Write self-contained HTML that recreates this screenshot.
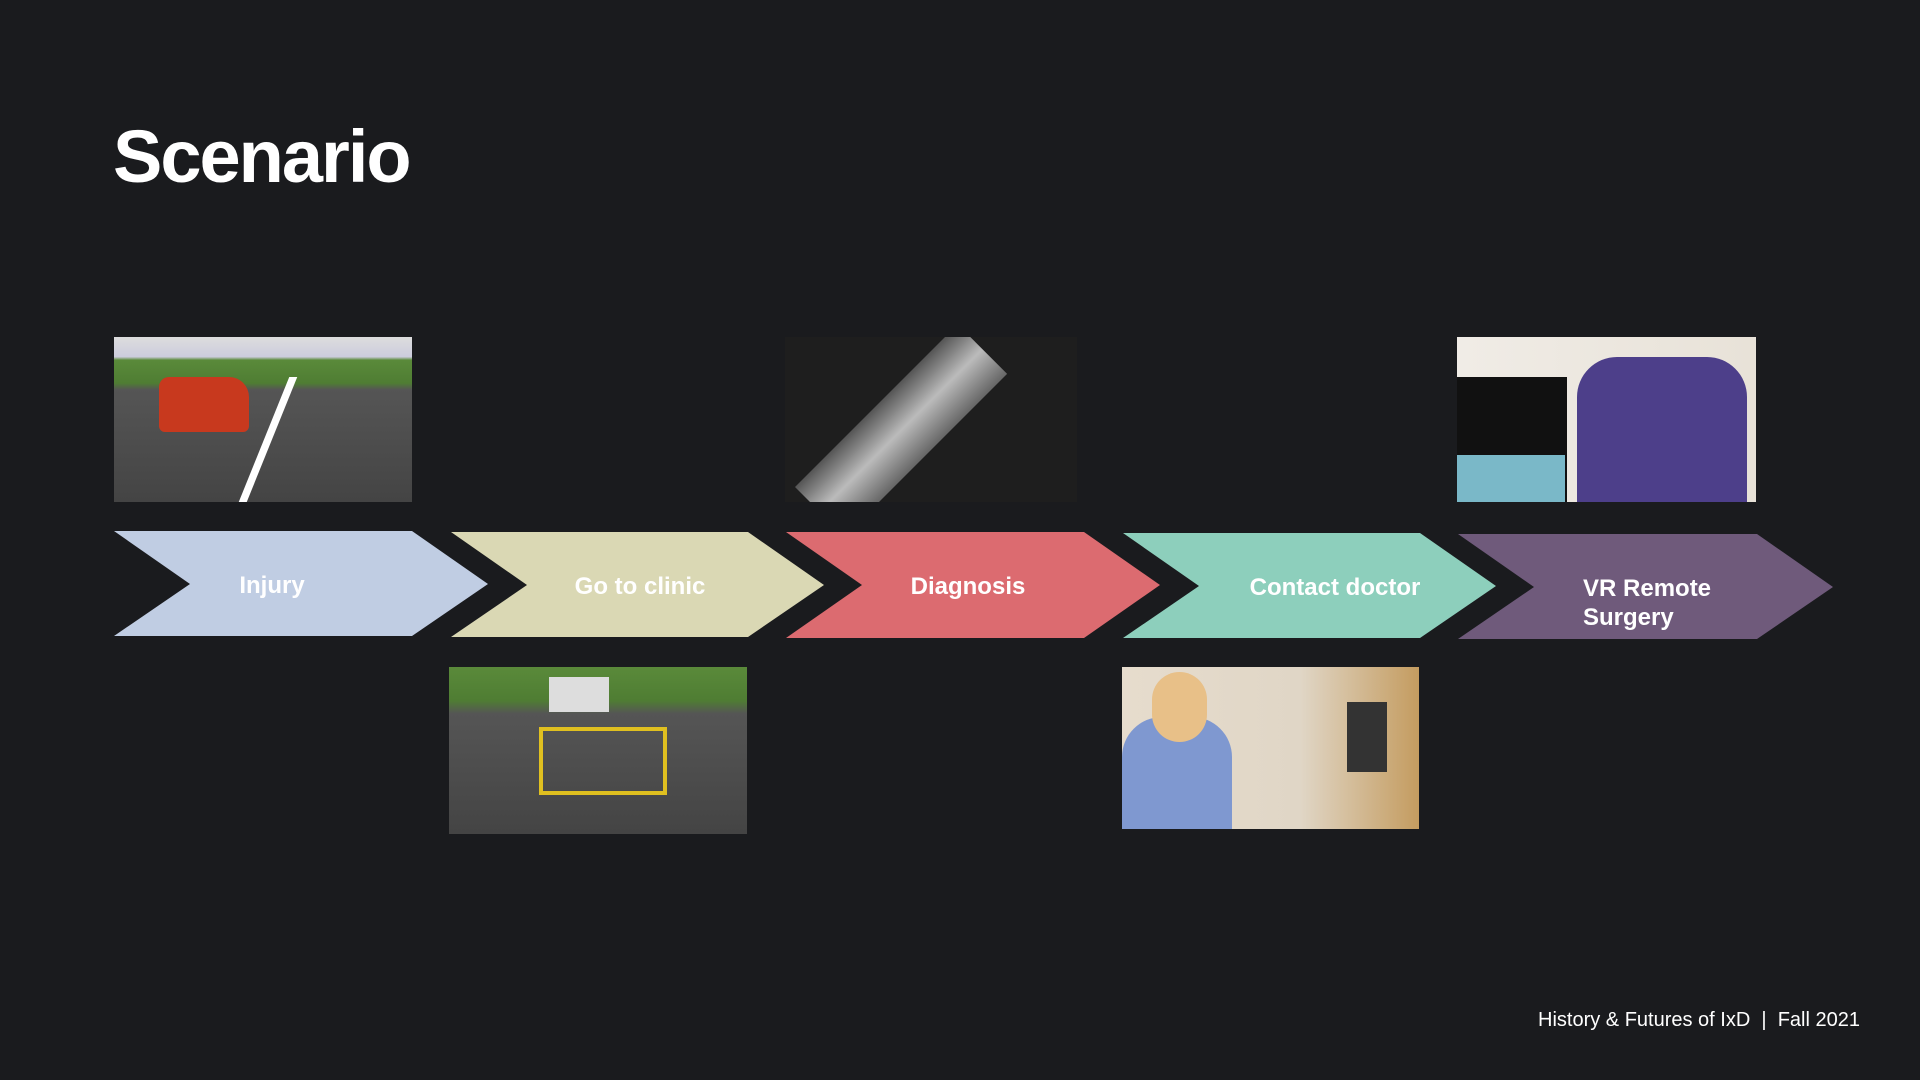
<!DOCTYPE html>
<html><head><meta charset="utf-8"><style>
html,body{margin:0;padding:0;background:#1a1b1e;}
body{width:1920px;height:1080px;position:relative;overflow:hidden;font-family:"Liberation Sans",sans-serif;}
.t{position:absolute;left:113px;top:114px;font-size:74px;font-weight:bold;color:#fff;letter-spacing:-2px;}
.img{position:absolute;overflow:hidden;}
.f{position:absolute;right:60px;top:1009px;color:#fff;font-size:20px;}
</style></head><body>
<div class="t">Scenario</div>

<div class="img" style="left:114px;top:337px;width:298px;height:165px;background:linear-gradient(180deg,#ddd 0%,#ccd 12%,#5a8a3a 14%,#4f7d33 28%,#555 32%,#444 100%);">
  <div style="position:absolute;left:45px;top:40px;width:90px;height:55px;background:#c8391e;border-radius:10px 20px 6px 6px;"></div>
  <div style="position:absolute;left:150px;top:40px;width:8px;height:125px;background:#fff;transform:skewX(-22deg);"></div>
</div>
<div class="img" style="left:449px;top:667px;width:298px;height:167px;background:linear-gradient(180deg,#5a8a3a 0%,#4f7d33 20%,#555 28%,#444 100%);">
  <div style="position:absolute;left:100px;top:10px;width:60px;height:35px;background:#ddd;"></div>
  <div style="position:absolute;left:90px;top:60px;width:120px;height:60px;border:4px solid #e0c020;"></div>
</div>
<div class="img" style="left:785px;top:337px;width:292px;height:165px;background:#1e1e1e;">
  <div style="position:absolute;width:230px;height:70px;background:linear-gradient(180deg,#555,#bbb,#666);transform:rotate(-45deg);transform-origin:left top;top:150px;left:10px;"></div>
</div>
<div class="img" style="left:1122px;top:667px;width:297px;height:162px;background:linear-gradient(90deg,#e6dccd 0%,#e0d6c6 60%,#c49c60 100%);">
  <div style="position:absolute;left:0;top:50px;width:110px;height:112px;background:#7f98d0;border-radius:40px 40px 0 0;"></div>
  <div style="position:absolute;left:30px;top:5px;width:55px;height:70px;background:#e8c088;border-radius:28px;"></div>
  <div style="position:absolute;left:225px;top:35px;width:40px;height:70px;background:#333;"></div>
</div>
<div class="img" style="left:1457px;top:337px;width:299px;height:165px;background:linear-gradient(90deg,#f0ece6 0%,#e8e2d8 100%);">
  <div style="position:absolute;left:0;top:40px;width:110px;height:125px;background:#111;"></div>
  <div style="position:absolute;left:120px;top:20px;width:170px;height:145px;background:#4d3f8a;border-radius:40px 40px 0 0;"></div>
  <div style="position:absolute;left:0;top:118px;width:108px;height:47px;background:#7ab8c8;"></div>
</div>

<svg style="position:absolute;left:0;top:0" width="1920" height="1080">
  <polygon points="114,531 412,531 488,584 412,636 114,636 190,584" fill="#c0cde3"/>
  <polygon points="451,532 748,532 824,585 748,637 451,637 527,585" fill="#dad8b4"/>
  <polygon points="786,532 1084,532 1160,585 1084,638 786,638 862,585" fill="#dc6b70"/>
  <polygon points="1123,533 1420,533 1496,586 1420,638 1123,638 1199,586" fill="#8dcfbc"/>
  <polygon points="1458,534 1757,534 1833,587 1757,639 1458,639 1534,587" fill="#6f5a7b"/>
  <g fill="#fff" font-family="Liberation Sans, sans-serif" font-weight="bold" font-size="24">
    <text x="272" y="593" text-anchor="middle">Injury</text>
    <text x="640" y="594" text-anchor="middle">Go to clinic</text>
    <text x="968" y="594" text-anchor="middle">Diagnosis</text>
    <text x="1335" y="595" text-anchor="middle">Contact doctor</text>
    <text x="1583" y="596">VR Remote</text>
    <text x="1583" y="625">Surgery</text>
  </g>
</svg>
<div class="f">History &amp; Futures of IxD&nbsp;&nbsp;|&nbsp;&nbsp;Fall 2021</div>
</body></html>
